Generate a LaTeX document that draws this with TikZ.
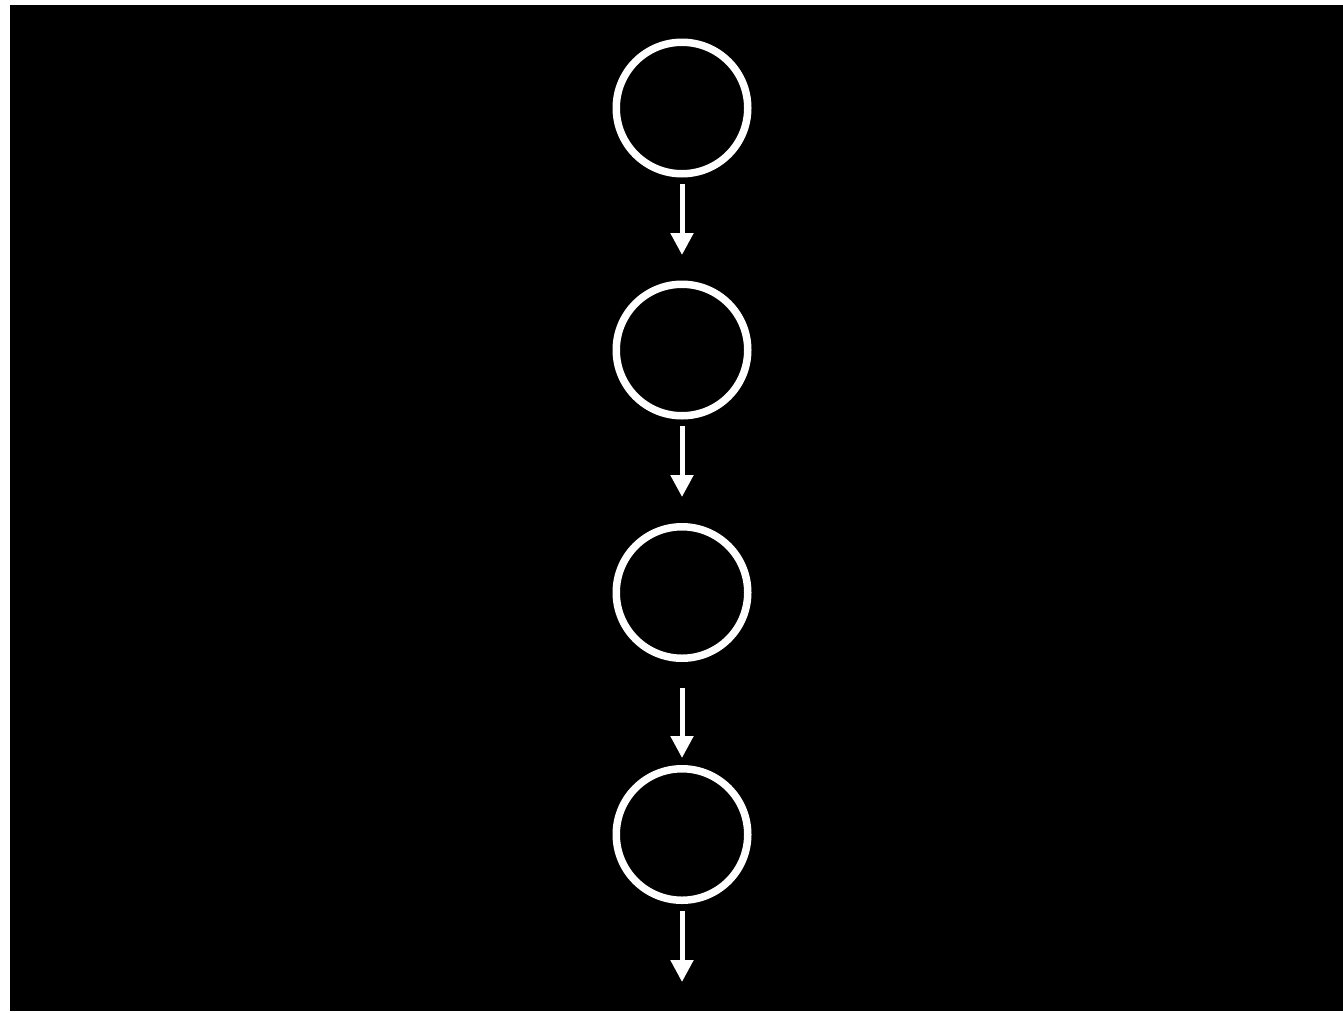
\documentclass[tikz,border=0pt]{standalone}
\usetikzlibrary{arrows.meta}
\begin{document}
\begin{tikzpicture}[x=1pt,y=-1pt,
  ring/.style={circle,draw=white,line width=7.5pt,minimum size=131.5pt,inner sep=0pt,fill=black},
  flow/.style={draw=white,line width=5pt,-{Triangle[width=22pt,length=22pt]}}]
\useasboundingbox (0,0) rectangle (1343,1012);
\fill[white] (0,0) rectangle (1343,1012);
\fill[black] (10,5) rectangle (1343,1011);
\node[ring] (c1) at (682,108) {};
\node[ring] (c2) at (682,350) {};
\node[ring] (c3) at (682,592.5) {};
\node[ring] (c4) at (682,834.5) {};
\coordinate (e) at (682,982);
\draw[flow,shorten <=6.5pt,shorten >=25.5pt] (c1.south) -- (c2.north);
\draw[flow,shorten <=6.5pt,shorten >=26pt] (c2.south) -- (c3.north);
\draw[flow,shorten <=26pt,shorten >=7pt] (c3.south) -- (c4.north);
\draw[flow,shorten <=7pt] (c4.south) -- (e);
\end{tikzpicture}
\end{document}
